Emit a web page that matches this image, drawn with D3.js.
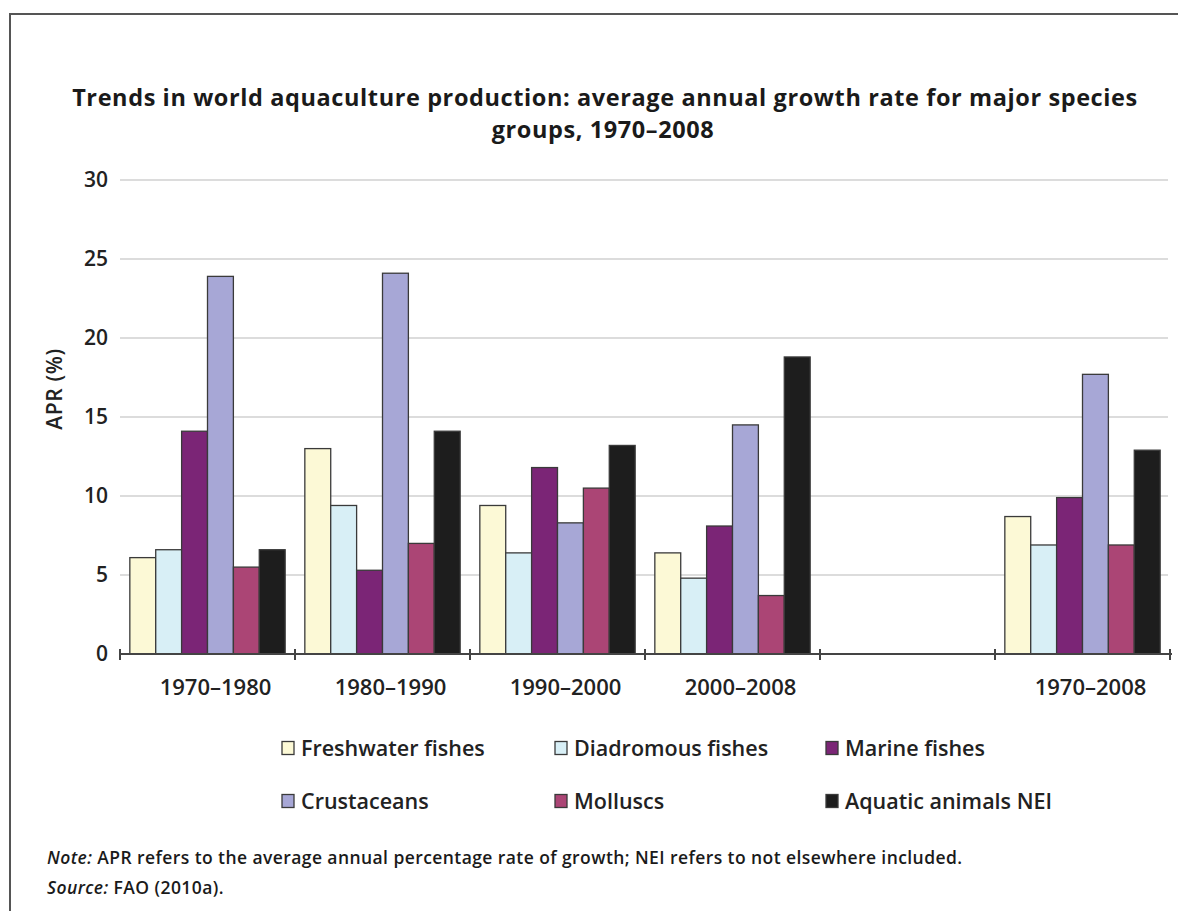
<!DOCTYPE html>
<html>
<head>
<meta charset="utf-8">
<script src="https://cdn.jsdelivr.net/npm/d3@7"></script>
<style>
  html, body { margin: 0; padding: 0; background: #fff; }
  svg { display: block; font-family: "Open Sans", "Noto Sans", sans-serif; }
</style>
</head>
<body>
<svg id="chart" width="1178" height="911"></svg>
<script>
// periods on the x axis (the empty one is the gap before the long-term column)
const periods = ['1970–1980', '1980–1990', '1990–2000', '2000–2008', '', '1970–2008']
const groups = ['Freshwater fishes', 'Diadromous fishes', 'Marine fishes', 'Crustaceans', 'Molluscs', 'Aquatic animals NEI']
const colors = ['#fcf9d6', '#d8eff6', '#7b2576', '#a7a7d6', '#ab4575', '#1d1d1d']

// APR (%) per group, one value per period
const freshwater = [6.1, 13.0, 9.4, 6.4, null, 8.7]
const diadromous = [6.6, 9.4, 6.4, 4.8, null, 6.9]
const marine = [14.1, 5.3, 11.8, 8.1, null, 9.9]
const crustaceans = [23.9, 24.1, 8.3, 14.5, null, 17.7]
const molluscs = [5.5, 7.0, 10.5, 3.7, null, 6.9]
const nei = [6.6, 14.1, 13.2, 18.8, null, 12.9]
const yTicks = [0, 5, 10, 15, 20, 25, 30]

const seriesValues = [freshwater, diadromous, marine, crustaceans, molluscs, nei]

const svg = d3.select('#chart')
const margin = { left: 120, right: 8, top: 180, bottom: 257 }
const width = 1178
const height = 911
const textColor = '#222'

// outer frame (only top and left edges show in the source)
svg.append('path')
  .attr('d', `M10,${height + 5} V14 H${width + 5}`)
  .attr('fill', 'none')
  .attr('stroke', '#555')
  .attr('stroke-width', 2)

const x0 = d3.scaleBand()
  .domain(periods.map((d, i) => i))
  .range([margin.left, 1170])
const x1 = d3.scaleBand()
  .domain(groups)
  .range([0, x0.bandwidth()])
  .paddingOuter(0.38)
const y = d3.scaleLinear()
  .domain([0, 30])
  .range([height - margin.bottom, margin.top])

// title
const title = svg.append('text')
  .attr('text-anchor', 'middle')
  .attr('font-weight', 700)
  .attr('font-size', 23.5)
  .attr('letter-spacing', 0.6)
  .attr('fill', '#1a1a1a')
title.append('tspan').attr('x', 605).attr('y', 106)
  .text('Trends in world aquaculture production: average annual growth rate for major species')
title.append('tspan').attr('x', 603).attr('y', 138)
  .text('groups, 1970–2008')

// gridlines
svg.append('g')
  .selectAll('line')
  .data(yTicks.filter((d) => d > 0))
  .join('line')
  .attr('x1', margin.left)
  .attr('x2', 1168)
  .attr('y1', (d) => y(d))
  .attr('y2', (d) => y(d))
  .attr('stroke', '#dcdcdc')
  .attr('stroke-width', 2)

// y axis labels
const yAxis = d3.axisLeft(y).tickValues(yTicks).tickSize(0).tickPadding(12)
svg.append('g')
  .attr('transform', `translate(${margin.left},0)`)
  .call(yAxis)
  .call((g) => g.select('.domain').remove())
  .call((g) => g.selectAll('text')
    .attr('font-size', 21)
    .attr('font-weight', 600)
    .attr('fill', textColor)
    .attr('font-family', '"Open Sans", sans-serif'))

svg.append('text')
  .attr('transform', `translate(62,389) rotate(-90)`)
  .attr('text-anchor', 'middle')
  .attr('font-size', 21)
  .attr('font-weight', 600)
  .attr('letter-spacing', 0.6)
  .attr('fill', textColor)
  .text('APR (%)')

// bars
const rows = periods.map((p, i) => groups.map((g, j) => ({ period: i, group: g, value: seriesValues[j][i], color: colors[j] })))
svg.append('g')
  .selectAll('g')
  .data(rows)
  .join('g')
  .attr('transform', (d, i) => `translate(${x0(i)},0)`)
  .selectAll('rect')
  .data((d) => d.filter((e) => e.value != null))
  .join('rect')
  .attr('x', (d) => x1(d.group))
  .attr('width', x1.bandwidth())
  .attr('y', (d) => y(d.value))
  .attr('height', (d) => y(0) - y(d.value))
  .attr('fill', (d) => d.color)
  .attr('stroke', '#3a3a3a')
  .attr('stroke-width', 1.3)

// x axis: baseline with ticks at group boundaries
const xAxisG = svg.append('g').attr('transform', `translate(0,${y(0)})`)
xAxisG.append('line')
  .attr('x1', margin.left)
  .attr('x2', 1172)
  .attr('stroke', '#444')
  .attr('stroke-width', 2)
xAxisG.selectAll('.tick-mark')
  .data(d3.range(periods.length + 1))
  .join('line')
  .attr('class', 'tick-mark')
  .attr('x1', (i) => margin.left + i * x0.step())
  .attr('x2', (i) => margin.left + i * x0.step())
  .attr('y1', -5)
  .attr('y2', 6)
  .attr('stroke', '#444')
  .attr('stroke-width', 2)
// labels sit a little right of the band centre in the source
xAxisG.selectAll('.period-label')
  .data(periods)
  .join('text')
  .attr('class', 'period-label')
  .attr('x', (d, i) => x0(i) + x0.bandwidth() / 2 + 8)
  .attr('y', 41)
  .attr('text-anchor', 'middle')
  .attr('font-size', 22)
  .attr('font-weight', 600)
  .attr('fill', textColor)
  .text((d) => d)

// legend
const legendX = [282, 555, 826]
const legendY = [748, 801]
const legend = svg.append('g')
  .selectAll('g')
  .data(groups)
  .join('g')
  .attr('transform', (d, i) => `translate(${legendX[i % 3]},${legendY[Math.floor(i / 3)]})`)
legend.append('rect')
  .attr('x', 0)
  .attr('y', -6.5)
  .attr('width', 12)
  .attr('height', 13)
  .attr('fill', (d, i) => colors[i])
  .attr('stroke', '#3a3a3a')
  .attr('stroke-width', 1.3)
legend.append('text')
  .attr('x', 19)
  .attr('y', 8)
  .attr('font-size', 21.5)
  .attr('font-weight', 600)
  .attr('fill', textColor)
  .text((d) => d)

// note and source
const note = svg.append('text')
  .attr('x', 47)
  .attr('y', 864)
  .attr('font-size', 17.5)
  .attr('font-weight', 600)
  .attr('letter-spacing', 0.42)
  .attr('fill', '#1a1a1a')
note.append('tspan').attr('font-style', 'italic').text('Note:')
note.append('tspan').text(' APR refers to the average annual percentage rate of growth; NEI refers to not elsewhere included.')

const source = svg.append('text')
  .attr('x', 47)
  .attr('y', 894)
  .attr('font-size', 17.5)
  .attr('font-weight', 600)
  .attr('letter-spacing', 0.42)
  .attr('fill', '#1a1a1a')
source.append('tspan').attr('font-style', 'italic').text('Source:')
source.append('tspan').text(' FAO (2010a).')
</script>
</body>
</html>
